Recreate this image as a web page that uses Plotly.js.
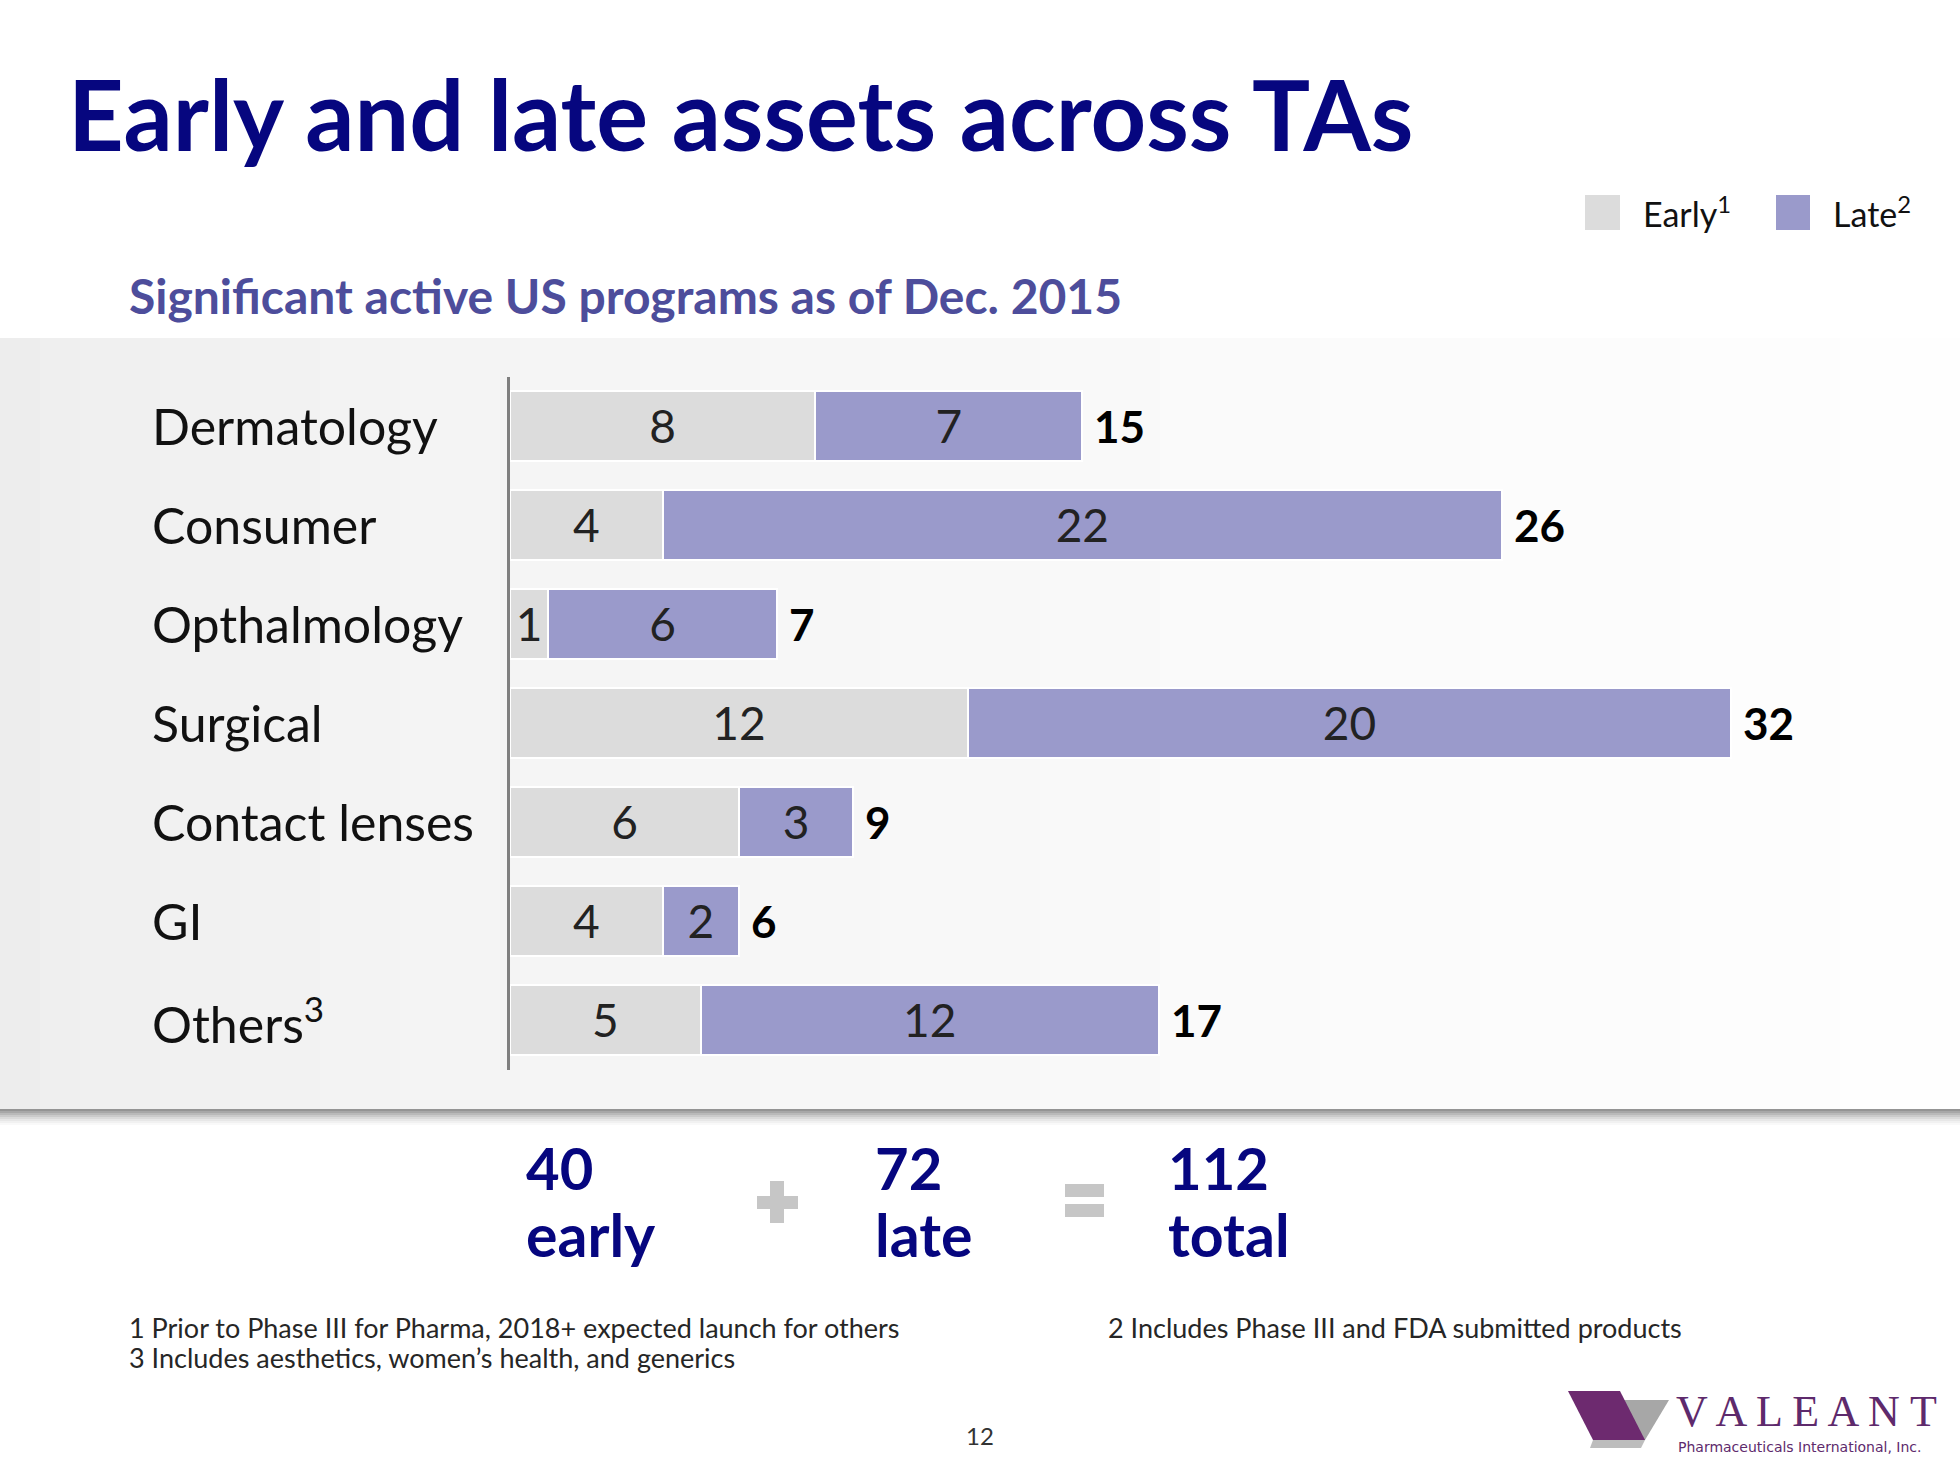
<!DOCTYPE html>
<html>
<head>
<meta charset="utf-8">
<script src="https://cdn.plot.ly/plotly-3.0.1.min.js"></script>
<style>
  html, body { margin: 0; padding: 0; background: #ffffff; }
  #chart { width: 1960px; height: 1470px; }
</style>
</head>
<body>
<div id="chart"></div>
<script>
// ---------------- DATA ----------------
const categories = ['Dermatology', 'Consumer', 'Opthalmology', 'Surgical', 'Contact lenses', 'GI', 'Others'];
const categoryLabels = ['Dermatology', 'Consumer', 'Opthalmology', 'Surgical', 'Contact lenses', 'GI', 'Others<sup>3</sup>'];
const earlyValues = [8, 4, 1, 12, 6, 4, 5];
const lateValues = [7, 22, 6, 20, 3, 2, 12];
const seriesNames = ['Early', 'Late'];
const seriesSup = ['1', '2'];
const titleText = 'Early and late assets across TAs';
const subtitleText = 'Significant active US programs as of Dec. 2015';
const footnotes = [
  '1 Prior to Phase III for Pharma, 2018+ expected launch for others',
  '3 Includes aesthetics, women\u2019s health, and generics',
  '2 Includes Phase III and FDA submitted products'
];
const pageNumber = '12';

// ---------------- STYLE ----------------
const W = 1960, H = 1470;
const FONT = 'Lato, "Open Sans", sans-serif';
const earlyColor = '#dcdcdc';
const lateColor = '#9a9acb';
const navy = '#06067f';
const px = x => x / W;
const py = y => 1 - y / H;

const totals = categories.map((c, i) => earlyValues[i] + lateValues[i]);
const earlySum = earlyValues.reduce((a, b) => a + b, 0);
const lateSum = lateValues.reduce((a, b) => a + b, 0);
const grandSum = earlySum + lateSum;

const traces = [
  {
    type: 'bar', orientation: 'h', name: seriesNames[0],
    y: categories, x: earlyValues,
    text: earlyValues.map(String), textposition: 'inside', insidetextanchor: 'middle',
    textfont: { family: FONT, size: 46, color: '#222222' },
    marker: { color: earlyColor, line: { color: '#ffffff', width: 2 } },
    width: 0.71, hoverinfo: 'skip', cliponaxis: false
  },
  {
    type: 'bar', orientation: 'h', name: seriesNames[1],
    y: categories, x: lateValues,
    text: lateValues.map(String), textposition: 'inside', insidetextanchor: 'middle',
    textfont: { family: FONT, size: 46, color: '#222222' },
    marker: { color: lateColor, line: { color: '#ffffff', width: 2 } },
    width: 0.71, hoverinfo: 'skip', cliponaxis: false
  }
];

// ---------------- SHAPES ----------------
const shapes = [];
// gradient panel (strips)
const panelTop = 338, panelBottom = 1109, nStrips = 49;
for (let i = 0; i < nStrips; i++) {
  const t = i / (nStrips - 1);
  const v = Math.round(237 + (254 - 237) * Math.pow(t, 0.6));
  shapes.push({
    type: 'rect', xref: 'paper', yref: 'paper', layer: 'below',
    x0: px(i * W / nStrips), x1: px((i + 1) * W / nStrips + 1),
    y0: py(panelBottom), y1: py(panelTop),
    fillcolor: `rgb(${v},${v},${v})`, line: { width: 0 }
  });
}
// shadow under panel
const shadowSteps = [[0, 0.55], [2, 0.45], [4, 0.36], [6, 0.27], [8, 0.19], [10, 0.12], [12, 0.07], [14, 0.03]];
shadowSteps.forEach(([d, a]) => {
  shapes.push({
    type: 'rect', xref: 'paper', yref: 'paper', layer: 'below',
    x0: 0, x1: 1, y0: py(panelBottom + d + 2), y1: py(panelBottom + d),
    fillcolor: `rgba(60,60,60,${a})`, line: { width: 0 }
  });
});
// legend swatches
shapes.push({ type: 'rect', xref: 'paper', yref: 'paper', x0: px(1585), x1: px(1620), y0: py(230), y1: py(195), fillcolor: earlyColor, line: { width: 0 } });
shapes.push({ type: 'rect', xref: 'paper', yref: 'paper', x0: px(1776), x1: px(1810), y0: py(230), y1: py(195), fillcolor: lateColor, line: { width: 0 } });
// plus sign
const opGray = '#c6c6c6';
shapes.push({ type: 'rect', xref: 'paper', yref: 'paper', x0: px(770), x1: px(784), y0: py(1223), y1: py(1181), fillcolor: opGray, line: { width: 0 } });
shapes.push({ type: 'rect', xref: 'paper', yref: 'paper', x0: px(757), x1: px(798), y0: py(1209), y1: py(1196), fillcolor: opGray, line: { width: 0 } });
// equals sign
shapes.push({ type: 'rect', xref: 'paper', yref: 'paper', x0: px(1065), x1: px(1104), y0: py(1197), y1: py(1184), fillcolor: opGray, line: { width: 0 } });
shapes.push({ type: 'rect', xref: 'paper', yref: 'paper', x0: px(1065), x1: px(1104), y0: py(1217), y1: py(1204), fillcolor: opGray, line: { width: 0 } });
// logo shapes
const pathOf = pts => 'M ' + pts.map(p => px(p[0]) + ',' + py(p[1])).join(' L ') + ' Z';
shapes.push({ type: 'path', xref: 'paper', yref: 'paper', path: pathOf([[1622, 1400], [1669, 1400], [1645, 1440], [1630, 1440]]), fillcolor: '#a7a7a7', line: { width: 0 } });
shapes.push({ type: 'path', xref: 'paper', yref: 'paper', path: pathOf([[1593, 1440], [1645, 1440], [1641, 1448], [1590, 1448]]), fillcolor: '#bdbdbd', line: { width: 0 } });
shapes.push({ type: 'path', xref: 'paper', yref: 'paper', path: pathOf([[1568, 1391], [1620, 1391], [1645, 1440], [1593, 1440]]), fillcolor: '#6d2a6f', line: { width: 0 } });

// ---------------- ANNOTATIONS ----------------
const ann = [];
const txt = (text, x, y, size, color, opts = {}) => Object.assign({
  text, xref: 'paper', yref: 'paper', x: px(x), y: py(y), xanchor: 'left', yanchor: 'middle',
  showarrow: false, font: { family: FONT, size, color }
}, opts);

ann.push(txt('<b>' + titleText + '</b>', 66, 113, 97, navy));
ann.push(txt('<b>' + subtitleText + '</b>', 127, 295, 48, '#4d4d9b'));
ann.push(txt(seriesNames[0] + '<sup>' + seriesSup[0] + '</sup>', 1641, 212, 34, '#111111'));
ann.push(txt(seriesNames[1] + '<sup>' + seriesSup[1] + '</sup>', 1831, 212, 34, '#111111'));

categories.forEach((c, i) => {
  ann.push({ text: categoryLabels[i], xref: 'paper', yref: 'y', x: px(150), y: c,
    xanchor: 'left', yanchor: 'middle', showarrow: false, font: { family: FONT, size: 50, color: '#111111' } });
  ann.push({ text: '<b>' + totals[i] + '</b>', xref: 'x', yref: 'y', x: totals[i], y: c,
    xanchor: 'left', yanchor: 'middle', xshift: 10, showarrow: false, font: { family: FONT, size: 44, color: '#000000' } });
});

ann.push(txt('<b>' + earlySum + '</b>', 524, 1167, 58, navy));
ann.push(txt('<b>early</b>', 524, 1234, 59, navy));
ann.push(txt('<b>' + lateSum + '</b>', 873, 1167, 58, navy));
ann.push(txt('<b>late</b>', 873, 1234, 59, navy));
ann.push(txt('<b>' + grandSum + '</b>', 1166, 1167, 58, navy));
ann.push(txt('<b>total</b>', 1166, 1234, 59, navy));

ann.push(txt(footnotes[0], 127, 1327, 27, '#262626'));
ann.push(txt(footnotes[1], 127, 1357, 27, '#262626'));
ann.push(txt(footnotes[2], 1106, 1327, 27, '#262626'));
ann.push(txt(pageNumber, 980, 1435, 24, '#333333', { xanchor: 'center' }));

ann.push(txt('V A L E A N T', 1674, 1411, 44, '#5e2a6c', { font: { family: '"Liberation Serif", "DejaVu Serif", serif', size: 44, color: '#5e2a6c' } }));
ann.push(txt('Pharmaceuticals International, Inc.', 1676, 1447, 14, '#5e2a6c', { font: { family: '"DejaVu Sans", sans-serif', size: 14, color: '#5e2a6c' } }));

// ---------------- LAYOUT ----------------
const layout = {
  width: W, height: H,
  margin: { l: 0, r: 0, t: 0, b: 0, pad: 0 },
  paper_bgcolor: '#ffffff', plot_bgcolor: 'rgba(0,0,0,0)',
  barmode: 'stack', bargap: 0.29,
  showlegend: false,
  font: { family: FONT },
  xaxis: {
    domain: [px(510), 1], range: [0, 38.0],
    showgrid: false, zeroline: false, showticklabels: false, showline: false, ticks: ''
  },
  yaxis: {
    domain: [py(1069.5), py(376.5)], range: [6.5, -0.5], type: 'category',
    showgrid: false, zeroline: false, showticklabels: false, ticks: '',
    showline: true, linecolor: '#7f7f7f', linewidth: 3
  },
  shapes, annotations: ann
};

Plotly.newPlot('chart', traces, layout, { staticPlot: true, displayModeBar: false });
</script>
</body>
</html>
